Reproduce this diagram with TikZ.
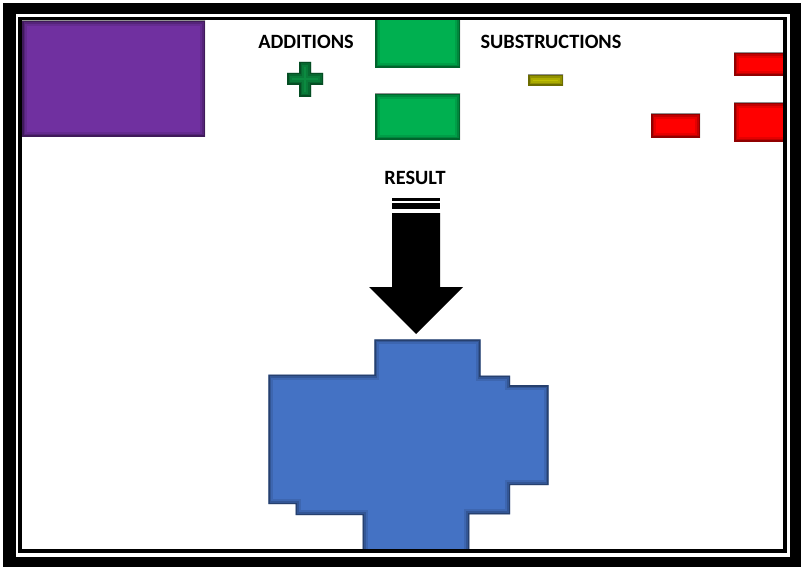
\documentclass[tikz,border=0pt]{standalone}
\usepackage{fontspec}
\setmainfont{Carlito}
\definecolor{cpurple}{HTML}{7030A0}
\definecolor{cgreen}{HTML}{00B050}
\definecolor{cdkgreen}{HTML}{0B8A40}
\definecolor{cyellow}{HTML}{BFBF00}
\definecolor{cred}{HTML}{FF0000}
\definecolor{cblue}{HTML}{4472C4}
\newcommand{\shadowfill}[2]{%
  \fill[#1] #2;
  \begin{scope}
    \clip #2;
    \draw[black, opacity=0.10, line width=10pt] #2;
    \draw[black, opacity=0.15, line width=6pt] #2;
    \draw[black, opacity=0.25, line width=3pt] #2;
  \end{scope}
}
\tikzset{
  lbl/.style={font=\bfseries\fontsize{20.3}{23}\selectfont, text=black, inner sep=0pt, anchor=center},
}
\begin{document}
\begin{tikzpicture}[x=1pt,y=-1pt]
\useasboundingbox (0,0) rectangle (801,567);
% outer frame
\fill[black] (3,3) rectangle (801,567);
\fill[white] (16,14.5) rectangle (790,557);
% shapes
\begin{scope}
\clip (20,18.5) rectangle (785,551);
\shadowfill{cpurple}{(22,21) rectangle (205,137)}
\shadowfill{cgreen}{(375,15) rectangle (460,68)}
\shadowfill{cgreen}{(375,94) rectangle (460,140)}
\shadowfill{cdkgreen}{(299,62) -- (311,62) -- (311,73) -- (323,73) -- (323,85) -- (311,85) -- (311,97) -- (299,97) -- (299,85) -- (287,85) -- (287,73) -- (299,73) -- cycle}
\shadowfill{cyellow}{(528,75) rectangle (563,86)}
\shadowfill{cred}{(734,53) rectangle (790,76)}
\shadowfill{cred}{(734,103) rectangle (790,142)}
\shadowfill{cred}{(651,114) rectangle (700,138)}
% arrow
\fill[black] (392,197.7) rectangle (440,201);
\fill[black] (392,203) rectangle (440,209);
\fill[black] (392,213) -- (440,213) -- (440,287) -- (463,287) -- (416,334) -- (369,287) -- (392,287) -- cycle;
% result shape
\shadowfill{cblue}{(374.3,339.3) -- (480.7,339.3) -- (480.7,375.7) -- (510,375.7) -- (510,385) -- (548.7,385) -- (548.7,485) -- (510,485) -- (510,514.3) -- (469.3,514.3) -- (469.3,555) -- (362.7,555) -- (362.7,515) -- (295.7,515) -- (295.7,504) -- (268.3,504) -- (268.3,374.7) -- (374.3,374.7) -- cycle}
\end{scope}
% inner thin frame line
\draw[black, line width=3.4pt] (20,18.5) rectangle (785,551);
% labels
\node[lbl] (additions) at (306,42) {ADDITIONS};
\node[lbl] (subs) at (551,42) {SUBSTRUCTIONS};
\node[lbl] (result) at (415,178) {RESULT};
\end{tikzpicture}
\end{document}
